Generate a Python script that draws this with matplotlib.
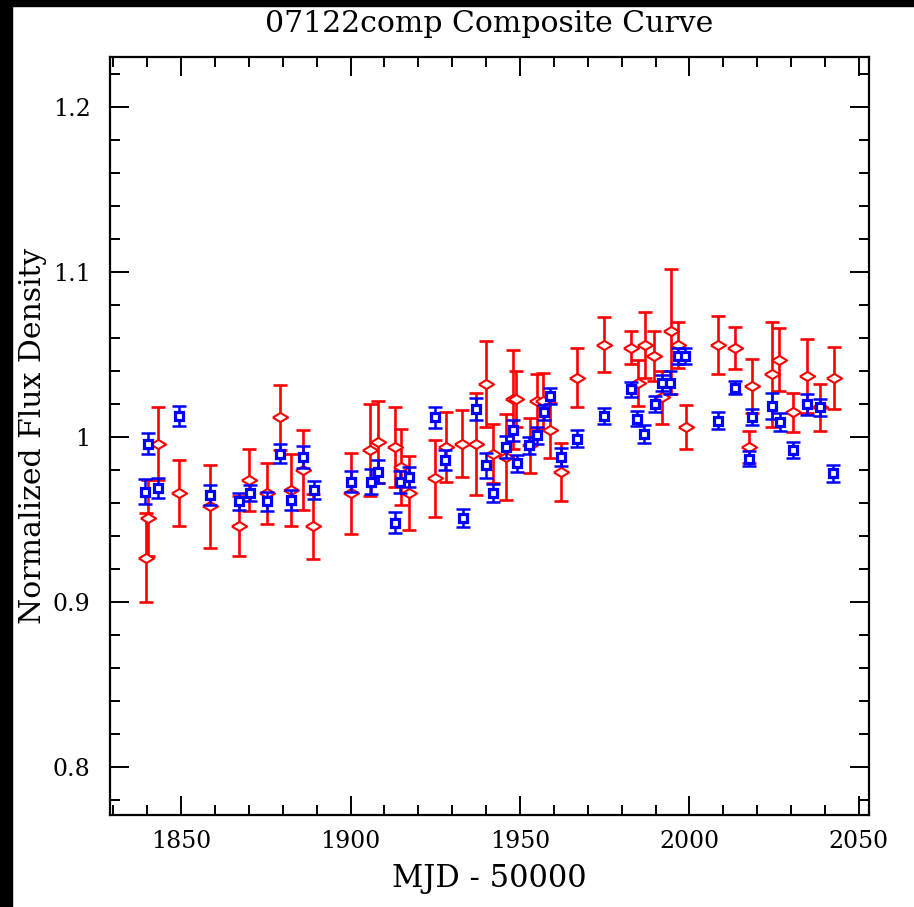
import numpy as np
import matplotlib
matplotlib.use('Agg')
import matplotlib.pyplot as plt
from matplotlib.patches import Rectangle
from matplotlib.ticker import MultipleLocator

# blue squares: MJD-50000, normalized flux, error
blue_mjd = [1839.2, 1840.2, 1843.1, 1849.4, 1858.6, 1867.2, 1870.3, 1875.3, 1879.2, 1882.4,
            1885.9, 1889.2, 1900.1, 1906.0, 1908.2, 1913.1, 1914.6, 1917.1, 1924.9, 1927.9,
            1933.1, 1937.0, 1939.9, 1941.9, 1945.9, 1948.0, 1949.0, 1952.7, 1954.9, 1957.1,
            1958.8, 1962.0, 1966.9, 1974.8, 1982.7, 1984.6, 1986.6, 1989.8, 1991.8, 1994.3,
            1996.7, 1998.7, 2008.5, 2013.4, 2017.6, 2018.6, 2024.5, 2026.7, 2030.6, 2034.6,
            2038.5, 2042.4]
blue_flux = [0.967, 0.996, 0.969, 1.013, 0.965, 0.961, 0.966, 0.961, 0.990, 0.962,
             0.988, 0.968, 0.973, 0.973, 0.979, 0.948, 0.973, 0.976, 1.012, 0.986,
             0.951, 1.017, 0.983, 0.966, 0.994, 1.004, 0.984, 0.995, 1.001, 1.015,
             1.025, 0.988, 0.999, 1.013, 1.029, 1.011, 1.002, 1.020, 1.033, 1.033,
             1.049, 1.049, 1.010, 1.030, 0.987, 1.012, 1.019, 1.009, 0.992, 1.020,
             1.018, 0.978]
blue_err = [0.0075, 0.0065, 0.006, 0.006, 0.006, 0.005, 0.005, 0.0055, 0.006, 0.006,
            0.0065, 0.0056, 0.0063, 0.0075, 0.007, 0.0063, 0.0066, 0.006, 0.0064, 0.006,
            0.0055, 0.0066, 0.0075, 0.0056, 0.0065, 0.0065, 0.005, 0.0053, 0.005, 0.0045,
            0.005, 0.0056, 0.0053, 0.0048, 0.0045, 0.0045, 0.0056, 0.0048, 0.0048, 0.007,
            0.0047, 0.0047, 0.0053, 0.0042, 0.0044, 0.0048, 0.0078, 0.0054, 0.0048, 0.0064,
            0.005, 0.0053]

# red diamonds
red_mjd = [1839.6, 1840.2, 1843.1, 1849.4, 1858.6, 1867.2, 1870.1, 1875.3, 1879.2, 1882.4,
           1886.1, 1889.0, 1900.1, 1905.8, 1908.0, 1913.1, 1914.9, 1917.3, 1924.9, 1928.2,
           1932.9, 1937.0, 1940.0, 1941.9, 1945.9, 1947.8, 1948.8, 1953.0, 1954.9, 1956.9,
           1958.8, 1962.0, 1966.7, 1974.8, 1982.7, 1984.7, 1986.9, 1989.5, 1991.8, 1994.5,
           1996.7, 1999.0, 2008.5, 2013.4, 2017.6, 2018.6, 2024.3, 2026.5, 2030.6, 2034.7,
           2038.5, 2042.6]
red_flux = [0.927, 0.951, 0.996, 0.966, 0.958, 0.946, 0.974, 0.966, 1.012, 0.968,
            0.980, 0.946, 0.966, 0.992, 0.997, 0.994, 0.982, 0.966, 0.975, 0.994,
            0.996, 0.996, 1.032, 0.990, 0.988, 1.023, 1.023, 0.995, 1.022, 1.022,
            1.004, 0.979, 1.036, 1.056, 1.054, 1.033, 1.056, 1.049, 1.024, 1.064,
            1.056, 1.006, 1.056, 1.054, 0.994, 1.031, 1.038, 1.047, 1.015, 1.037,
            1.018, 1.036]
red_err = [0.027, 0.023, 0.022, 0.020, 0.025, 0.018, 0.019, 0.0185, 0.0196, 0.022,
           0.024, 0.0196, 0.0245, 0.028, 0.025, 0.024, 0.023, 0.0225, 0.0235, 0.0214,
           0.0202, 0.031, 0.026, 0.018, 0.026, 0.030, 0.017, 0.0165, 0.0165, 0.017,
           0.0165, 0.0175, 0.018, 0.0165, 0.010, 0.014, 0.020, 0.015, 0.016, 0.038,
           0.014, 0.0135, 0.0176, 0.0127, 0.0096, 0.0165, 0.0316, 0.019, 0.012, 0.0224,
           0.0144, 0.0187]

plt.rcParams['font.family'] = ['DejaVu Serif']

fig = plt.figure(figsize=(9.14, 9.07), dpi=100)
ax = fig.add_axes([110/914, 92/907, 759/914, 758/907])

# flattened open diamond like the pgplot symbol
diamond = [(-1, 0), (0, 0.6), (1, 0), (0, -0.6), (-1, 0)]

ax.errorbar(red_mjd, red_flux, yerr=red_err, fmt='none', ecolor='#ff0000',
            elinewidth=1.9, capsize=5, capthick=1.9)
ax.plot(red_mjd, red_flux, linestyle='none', marker=diamond, ms=11,
        mfc='white', mec='#ff0000', mew=1.5)
ax.errorbar(blue_mjd, blue_flux, yerr=blue_err, fmt='none', ecolor='#0000ff',
            elinewidth=1.8, capsize=5, capthick=1.8)
ax.plot(blue_mjd, blue_flux, linestyle='none', marker='s', ms=6,
        mfc='white', mec='#0000ff', mew=2.3)

ax.set_xlim(1829, 2053)
ax.set_ylim(0.771, 1.2303)
ax.xaxis.set_major_locator(MultipleLocator(50))
ax.xaxis.set_minor_locator(MultipleLocator(10))
ax.yaxis.set_major_locator(MultipleLocator(0.1))
ax.yaxis.set_minor_locator(MultipleLocator(0.02))
ax.set_yticks([0.8, 0.9, 1.0, 1.1, 1.2])
ax.set_yticklabels(['0.8', '0.9', '1', '1.1', '1.2'])

ax.tick_params(which='both', direction='in', top=True, right=True, width=1.4, colors='black')
ax.tick_params(which='major', length=14)
ax.tick_params(which='minor', length=7)
ax.tick_params(axis='x', which='major', pad=11, labelsize=17)
ax.tick_params(axis='y', which='major', pad=14, labelsize=17)
for s in ax.spines.values():
    s.set_linewidth(1.6)

ax.set_xlabel('MJD - 50000', fontsize=22, labelpad=7)
ax.set_ylabel('Normalized Flux Density', fontsize=21.5, labelpad=4)
ax.set_title('07122comp Composite Curve', fontsize=21.5, pad=18)

# black border strips of the original screenshot
fig.patches.append(Rectangle((0, 0), 12/914, 1, transform=fig.transFigure, color='black', zorder=10))
fig.patches.append(Rectangle((0, 1 - 6/907), 1, 6/907, transform=fig.transFigure, color='black', zorder=10))

fig.savefig('out.png', dpi=100)
